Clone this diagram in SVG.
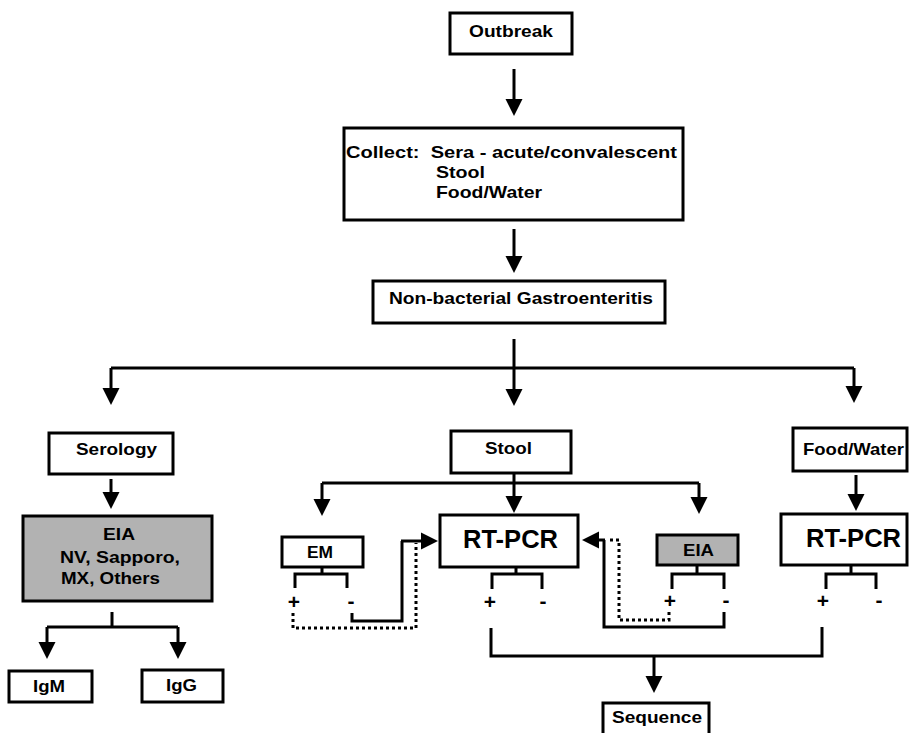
<svg xmlns="http://www.w3.org/2000/svg" width="910" height="733" viewBox="0 0 910 733">
<defs>
<marker id="ah" markerUnits="userSpaceOnUse" markerWidth="18" markerHeight="18" refX="1" refY="8.5" orient="auto" overflow="visible">
<path d="M0,0 L17,8.5 L0,17 z" fill="#000"/>
</marker>
<style>
.box{fill:#fff;stroke:#000;stroke-width:3}
.gray{fill:#b2b2b2;stroke:#000;stroke-width:3}
.t{font-family:"Liberation Sans",Arial,sans-serif;font-weight:bold;font-size:17px;fill:#000}
.big{font-size:25px}
.sg{font-family:"Liberation Sans",Arial,sans-serif;font-weight:bold;font-size:21px;fill:#000;text-anchor:middle}
.ln{fill:none;stroke:#000;stroke-width:3}
.ar{fill:none;stroke:#000;stroke-width:3;marker-end:url(#ah)}
.dt{fill:none;stroke:#000;stroke-width:3;stroke-dasharray:3 3}
</style>
</defs>
<rect width="910" height="733" fill="#fff"/>

<g id="connectors">
<path class="ar" d="M514,69 V100"/>
<path class="ar" d="M514,229 V257"/>
<path class="ar" d="M514,339 V390"/>
<path class="ln" d="M111,368 H854"/>
<path class="ar" d="M111,368 V389"/>
<path class="ar" d="M854,368 V387"/>
<path class="ar" d="M111,479 V493"/>
<path class="ln" d="M112,612 V627 M47,627 H178"/>
<path class="ar" d="M47,627 V643"/>
<path class="ar" d="M178,627 V643"/>
<path class="ar" d="M514,473 V497"/>
<path class="ln" d="M322,483 H699"/>
<path class="ar" d="M322,483 V500"/>
<path class="ar" d="M699,483 V498"/>
<path class="ln" d="M322,567 V574 M295,588 V574 H347 V588"/>
<path class="ln" d="M352,613 V621 H402 V541"/>
<path class="ar" d="M401,541 H422"/>
<path class="dt" d="M293,613 V628 H416 V543"/>
<path class="ln" d="M516,567 V574 M492,589 V574 H542 V589"/>
<path class="ln" d="M491,628 V656 H822 V627"/>
<path class="ar" d="M654,656 V677"/>
<path class="ln" d="M697,565 V574 M672,589 V574 H724 V589"/>
<path class="ln" d="M724,612 V627 H604 V540"/>
<path class="ar" d="M605,540 H598"/>
<path class="dt" d="M669,612 V620 H619 V540 H608"/>
<path class="ar" d="M856,475 V495"/>
<path class="ln" d="M851,565 V574 M826,589 V574 H876 V589"/>
</g>

<g id="outbreak">
<rect class="box" x="450" y="13" width="122" height="41"/>
<text class="t" x="469" y="37" textLength="84" lengthAdjust="spacingAndGlyphs">Outbreak</text>
</g>
<g id="collect">
<rect class="box" x="344" y="128" width="339" height="92"/>
<text class="t" x="346" y="158" textLength="331" lengthAdjust="spacingAndGlyphs" style="white-space:pre">Collect:  Sera - acute/convalescent</text>
<text class="t" x="436" y="178" textLength="49" lengthAdjust="spacingAndGlyphs">Stool</text>
<text class="t" x="436" y="198" textLength="106" lengthAdjust="spacingAndGlyphs">Food/Water</text>
</g>
<g id="nonbacterial">
<rect class="box" x="373" y="281" width="292" height="42"/>
<text class="t" x="389" y="304" textLength="264" lengthAdjust="spacingAndGlyphs">Non-bacterial Gastroenteritis</text>
</g>
<g id="serology">
<rect class="box" x="49" y="433" width="124" height="41"/>
<text class="t" x="76" y="455" textLength="81" lengthAdjust="spacingAndGlyphs">Serology</text>
</g>
<g id="eia-serology">
<rect class="gray" x="23" y="516" width="189" height="85"/>
<text class="t" x="103" y="540" textLength="32" lengthAdjust="spacingAndGlyphs">EIA</text>
<text class="t" x="60" y="563" textLength="120" lengthAdjust="spacingAndGlyphs">NV, Sapporo,</text>
<text class="t" x="61" y="584" textLength="99" lengthAdjust="spacingAndGlyphs">MX, Others</text>
</g>
<g id="igm">
<rect class="box" x="9" y="671" width="83" height="31"/>
<text class="t" x="33" y="692" textLength="32" lengthAdjust="spacingAndGlyphs">IgM</text>
</g>
<g id="igg">
<rect class="box" x="142" y="670" width="81" height="32"/>
<text class="t" x="166" y="691" textLength="31" lengthAdjust="spacingAndGlyphs">IgG</text>
</g>
<g id="stool">
<rect class="box" x="451" y="431" width="120" height="42"/>
<text class="t" x="485" y="454" textLength="47" lengthAdjust="spacingAndGlyphs">Stool</text>
</g>
<g id="em">
<rect class="box" x="282" y="537" width="81" height="30"/>
<text class="t" x="307" y="558" textLength="26" lengthAdjust="spacingAndGlyphs">EM</text>
<text class="sg" x="294" y="609">+</text>
<text class="sg" x="351" y="608">-</text>
</g>
<g id="rtpcr-stool">
<rect class="box" x="440" y="515" width="138" height="52"/>
<text class="t big" x="463" y="548" textLength="95" lengthAdjust="spacingAndGlyphs">RT-PCR</text>
<text class="sg" x="490" y="609">+</text>
<text class="sg" x="543" y="608">-</text>
</g>
<g id="eia-stool">
<rect class="gray" x="657" y="535" width="81" height="30"/>
<text class="t" x="683" y="556" textLength="31" lengthAdjust="spacingAndGlyphs">EIA</text>
<text class="sg" x="670" y="608">+</text>
<text class="sg" x="726" y="607">-</text>
</g>
<g id="foodwater">
<rect class="box" x="793" y="428" width="114" height="43"/>
<text class="t" x="803" y="455" textLength="101" lengthAdjust="spacingAndGlyphs">Food/Water</text>
</g>
<g id="rtpcr-food">
<rect class="box" x="781" y="514" width="126" height="51"/>
<text class="t big" x="806" y="547" textLength="95" lengthAdjust="spacingAndGlyphs">RT-PCR</text>
<text class="sg" x="823" y="608">+</text>
<text class="sg" x="879" y="607">-</text>
</g>
<g id="sequence">
<rect class="box" x="603" y="703" width="106" height="45"/>
<text class="t" x="612" y="723" textLength="90" lengthAdjust="spacingAndGlyphs">Sequence</text>
</g>
</svg>
